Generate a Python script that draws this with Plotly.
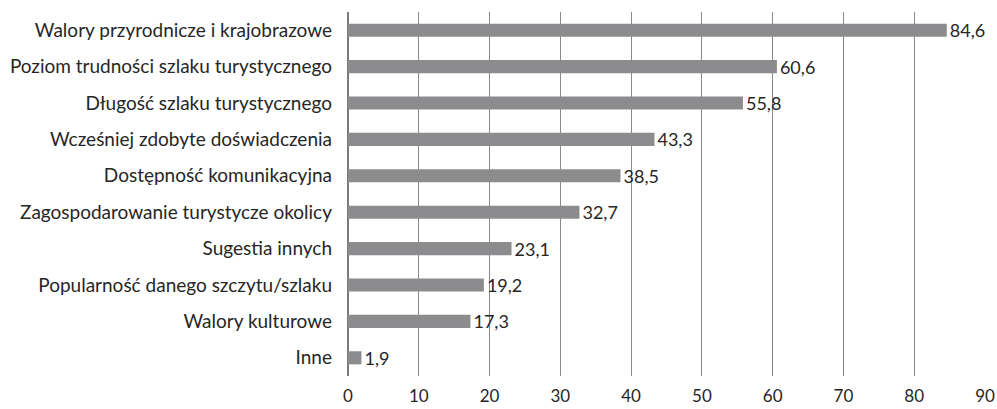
import plotly.graph_objects as go

categories = [
    "Walory przyrodnicze i krajobrazowe",
    "Poziom trudności szlaku turystycznego",
    "Długość szlaku turystycznego",
    "Wcześniej zdobyte doświadczenia",
    "Dostępność komunikacyjna",
    "Zagospodarowanie turystycze okolicy",
    "Sugestia innych",
    "Popularność danego szczytu/szlaku",
    "Walory kulturowe",
    "Inne",
]
values = [84.6, 60.6, 55.8, 43.3, 38.5, 32.7, 23.1, 19.2, 17.3, 1.9]
labels = [f"{v:.1f}".replace(".", ",") for v in values]
x_ticks = [0, 10, 20, 30, 40, 50, 60, 70, 80, 90]

FONT = "Lato"

fig = go.Figure(go.Bar(
    x=values,
    y=categories,
    orientation="h",
    marker=dict(color="#8c8c8e", line=dict(width=0)),
    text=labels,
    textposition="outside",
    constraintext="none",
    textfont=dict(size=18, color="#262626", family=FONT),
    cliponaxis=False,
))

fig.update_layout(
    width=997, height=409,
    margin=dict(l=348, r=12, t=12, b=33, autoexpand=False),
    paper_bgcolor="white", plot_bgcolor="white",
    bargap=0.64,
    showlegend=False,
    font=dict(family=FONT, size=18, color="#262626"),
    xaxis=dict(
        range=[0, 90], tickvals=x_ticks, showgrid=True, gridcolor="#8a8a8a",
        gridwidth=1, zeroline=True, zerolinecolor="#7a7a7a", zerolinewidth=2,
        showline=False, ticks="", ticklabelstandoff=8,
        tickfont=dict(size=17, family=FONT), fixedrange=True, automargin=False,
    ),
    yaxis=dict(
        categoryorder="array", categoryarray=categories[::-1],
        showgrid=False, ticks="", ticklabelstandoff=15, automargin=False,
        tickfont=dict(size=19, family=FONT), fixedrange=True,
    ),
)

fig.write_html(
    "out.html",
    config={"displayModeBar": False, "staticPlot": True},
    post_script="document.body.style.margin='0';document.body.style.overflow='hidden';",
)
